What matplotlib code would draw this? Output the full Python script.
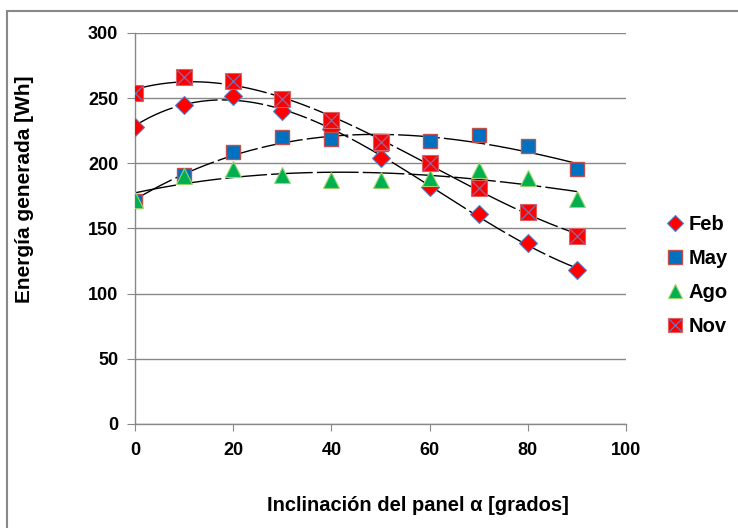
import numpy as np
import matplotlib
matplotlib.use("Agg")
import matplotlib.pyplot as plt
from matplotlib.patches import Rectangle
from matplotlib.legend_handler import HandlerTuple

plt.rcParams['font.family'] = ['Liberation Sans', 'DejaVu Sans']
plt.rcParams['font.weight'] = 'bold'

# tilt angle of the panel [degrees]
angles = [0, 10, 20, 30, 40, 50, 60, 70, 80, 90]

# generated energy [Wh] per month
feb = [228, 245, 252, 240, 226, 204, 182, 161, 139, 118]
may = [171, 191, 209, 220, 219, 215, 217, 222, 213, 196]
ago = [172, 190, 196, 191, 187, 187, 189, 195, 189, 173]
nov = [254, 266, 263, 249, 233, 216, 200, 181, 163, 144]

x_ticks = [0, 20, 40, 60, 80, 100]
y_ticks = [0, 50, 100, 150, 200, 250, 300]

fig = plt.figure(figsize=(7.38, 5.28), dpi=100)
ax = fig.add_axes([135 / 738, 104 / 528, 491 / 738, 391 / 528])

# polynomial trendlines like the spreadsheet ones
xs = np.linspace(0, 90, 200)
for series in [feb, may, ago, nov]:
    coef = np.polyfit(angles, series, 3)
    ax.plot(xs, np.polyval(coef, xs), color='black', lw=1.0,
            dashes=(30, 3), zorder=2)

h_feb, = ax.plot(angles, feb, 'D', ms=9.5, mfc='#FF0000', mec='#5B7BC0', mew=0.8, ls='none', zorder=3)
h_may, = ax.plot(angles, may, 's', ms=10.5, mfc='#0070C0', mec='#C0504D', mew=1.0, ls='none', zorder=3)
h_ago, = ax.plot(angles, ago, '^', ms=11, mfc='#00B050', mec='#9BD36F', mew=0.8, ls='none', zorder=3)
h_nov, = ax.plot(angles, nov, 's', ms=11, mfc='#FF0000', mec='#E06060', mew=0.8, ls='none', zorder=4)
h_novx, = ax.plot(angles, nov, 'x', ms=10, mec='#7F6FB0', mew=0.9, ls='none', zorder=5)

ax.set_xlim(0, 100)
ax.set_ylim(0, 300)
ax.set_xticks(x_ticks)
ax.set_yticks(y_ticks)
ax.tick_params(axis='x', direction='out', length=5, color='#888888', pad=8, labelsize=13)
ax.tick_params(axis='y', direction='out', length=6, color='#888888', pad=6, labelsize=13)
for lab in ax.get_xticklabels() + ax.get_yticklabels():
    lab.set_fontweight('bold')

ax.grid(axis='y', color='#888888', lw=1.0)
ax.set_axisbelow(True)
for s in ['top', 'right']:
    ax.spines[s].set_visible(False)
for s in ['left', 'bottom']:
    ax.spines[s].set_color('#888888')
    ax.spines[s].set_linewidth(1.0)

ax.set_xlabel('Inclinación del panel α [grados]', fontsize=14.5, fontweight='bold')
ax.set_ylabel('Energía generada [Wh]', fontsize=15, fontweight='bold')
ax.xaxis.set_label_coords(0.577, -0.184)
ax.yaxis.set_label_coords(-0.205, 0.6)

leg = fig.legend([h_feb, h_may, h_ago, (h_nov, h_novx)], ['Feb', 'May', 'Ago', 'Nov'],
                 handler_map={tuple: HandlerTuple(ndivide=1)},
                 loc='upper left', bbox_to_anchor=(650 / 738, 1 - 197 / 528),
                 frameon=False, fontsize=14.5, labelspacing=0.75,
                 handlelength=0.7, handletextpad=0.3, markerscale=0.9)
for t in leg.get_texts():
    t.set_fontweight('bold')

# outer chart border
fig.patches.append(Rectangle((7 / 738, -0.1), 1.1, 1 - 11 / 528 + 0.1,
                             transform=fig.transFigure, fill=False,
                             edgecolor='#888888', lw=1.5))

fig.savefig('out.png', dpi=100)
